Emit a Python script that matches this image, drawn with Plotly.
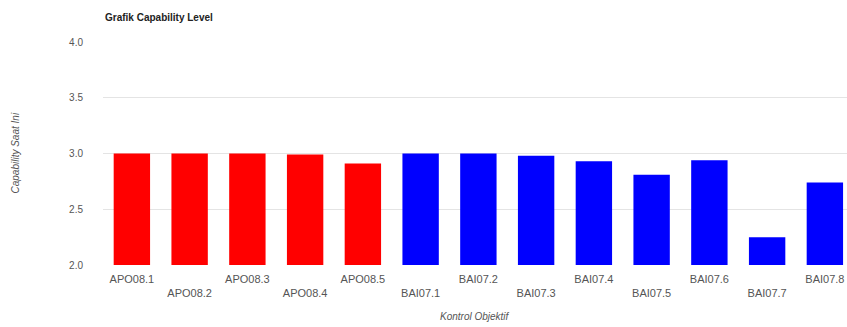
import plotly.graph_objects as go

categories = ["APO08.1", "APO08.2", "APO08.3", "APO08.4", "APO08.5",
              "BAI07.1", "BAI07.2", "BAI07.3", "BAI07.4", "BAI07.5",
              "BAI07.6", "BAI07.7", "BAI07.8"]
values = [3.00, 3.00, 3.00, 2.99, 2.91,
          3.00, 3.00, 2.98, 2.93, 2.81,
          2.94, 2.25, 2.74]
groups = ["APO"] * 5 + ["BAI"] * 8
group_colors = {"APO": "#ff0000", "BAI": "#0000ff"}
y_ticks = [2.0, 2.5, 3.0, 3.5, 4.0]
y_tick_labels = ["2.0", "2.5", "3.0", "3.5", "4.0"]

x_idx = list(range(len(categories)))
tick_text = [c if i % 2 == 0 else "<br>" + c for i, c in enumerate(categories)]

fig = go.Figure()
fig.add_trace(go.Bar(
    x=x_idx, y=values,
    marker=dict(color=[group_colors[g] for g in groups], line=dict(width=0)),
    width=0.63,
    base=0,
    hoverinfo="skip",
))

W, H = 847, 327
ml, mr, mt, mb = 103, 0, 42, 62

fig.update_layout(
    width=W, height=H,
    margin=dict(l=ml, r=mr, t=mt, b=mb, pad=0),
    paper_bgcolor="white", plot_bgcolor="white",
    showlegend=False,
    font=dict(family="Arial, Liberation Sans, sans-serif", color="#555555"),
    xaxis=dict(
        range=[-0.5, -0.5 + (W - ml) / 57.75],
        tickmode="array", tickvals=x_idx, ticktext=tick_text,
        tickfont=dict(size=11, color="#555555"),
        showgrid=False, zeroline=False, showline=False,
        ticks="", ticklabelstandoff=6,
        fixedrange=True,
    ),
    yaxis=dict(
        range=[2.0, 4.0],
        tickmode="array", tickvals=y_ticks, ticktext=y_tick_labels,
        tickfont=dict(size=10, color="#555555"),
        showgrid=True, gridcolor="#e4e4e4", gridwidth=1,
        zeroline=False, showline=False,
        ticks="", ticklabelstandoff=19,
        fixedrange=True,
    ),
    annotations=[
        dict(text="<b>Grafik Capability Level</b>", xref="paper", yref="paper",
             x=0, y=1, xanchor="left", yanchor="middle",
             yshift=(mt - 17), showarrow=False,
             font=dict(size=10, color="#222222")),
        dict(text="<i>Kontrol Objektif</i>", xref="paper", yref="paper",
             x=0.5, y=0, xanchor="center", yanchor="middle",
             yshift=-(316 - (H - mb)), showarrow=False,
             font=dict(size=10, color="#555555")),
        dict(text="<i>Capability Saat Ini</i>", xref="paper", yref="paper",
             x=0, y=0.5, xanchor="center", yanchor="middle",
             xshift=-(ml - 15), textangle=-90, showarrow=False,
             font=dict(size=10, color="#555555")),
    ],
)

fig.write_html("out.html", config={"displayModeBar": False, "staticPlot": True},
               post_script="document.body.style.margin='0';document.body.style.overflow='hidden';")
